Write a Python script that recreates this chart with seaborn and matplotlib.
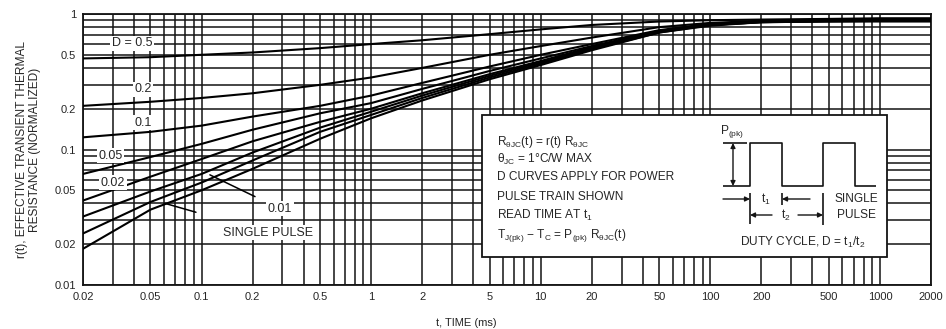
import numpy as np
import pandas as pd
import matplotlib
matplotlib.use("Agg")
import matplotlib.pyplot as plt
import seaborn as sns

# ---- data ----
t_ms = [0.02, 0.05, 0.1, 0.2, 0.5, 1, 2, 5, 10, 20, 50, 100, 200, 500, 1000, 2000]
d_05 = [0.47, 0.48, 0.50, 0.52, 0.56, 0.60, 0.64, 0.71, 0.77, 0.83, 0.88, 0.90, 0.91, 0.92, 0.93, 0.93]
d_02 = [0.21, 0.225, 0.24, 0.26, 0.30, 0.34, 0.40, 0.50, 0.58, 0.67, 0.80, 0.86, 0.89, 0.91, 0.92, 0.92]
d_01 = [0.123, 0.135, 0.15, 0.175, 0.21, 0.25, 0.31, 0.41, 0.50, 0.60, 0.76, 0.85, 0.88, 0.90, 0.91, 0.91]
d_005 = [0.066, 0.088, 0.11, 0.14, 0.185, 0.22, 0.28, 0.38, 0.47, 0.58, 0.75, 0.84, 0.88, 0.90, 0.90, 0.90]
d_002 = [0.042, 0.063, 0.085, 0.115, 0.16, 0.20, 0.26, 0.36, 0.45, 0.57, 0.74, 0.83, 0.88, 0.89, 0.90, 0.90]
d_001 = [0.032, 0.049, 0.066, 0.095, 0.145, 0.19, 0.25, 0.35, 0.44, 0.56, 0.74, 0.83, 0.87, 0.89, 0.89, 0.89]
d_unl = [0.024, 0.041, 0.057, 0.083, 0.135, 0.18, 0.24, 0.34, 0.43, 0.55, 0.73, 0.83, 0.87, 0.88, 0.89, 0.89]
single = [0.0185, 0.036, 0.050, 0.072, 0.12, 0.17, 0.23, 0.33, 0.42, 0.54, 0.73, 0.82, 0.87, 0.88, 0.88, 0.88]

curve_names = ["0.5", "0.2", "0.1", "0.05", "0.02", "0.01", "unlabeled", "single"]
curve_values = [d_05, d_02, d_01, d_005, d_002, d_001, d_unl, single]

x_ticks = [0.02, 0.05, 0.1, 0.2, 0.5, 1, 2, 5, 10, 20, 50, 100, 200, 500, 1000, 2000]
x_tick_labels = ["0.02", "0.05", "0.1", "0.2", "0.5", "1", "2", "5", "10", "20", "50",
                 "100", "200", "500", "1000", "2000"]
y_ticks = [0.01, 0.02, 0.05, 0.1, 0.2, 0.5, 1]
y_tick_labels = ["0.01", "0.02", "0.05", "0.1", "0.2", "0.5", "1"]

# curve labels: text, x, y
curve_labels = [("D = 0.5", 0.039, 0.61), ("0.2", 0.045, 0.278), ("0.1", 0.045, 0.158),
                ("0.05", 0.029, 0.090), ("0.02", 0.030, 0.057)]

frames = [pd.DataFrame({"t": t_ms, "r": v, "D": n}) for n, v in zip(curve_names, curve_values)]
df = pd.concat(frames, ignore_index=True)

sns.set_style("white")
plt.rcParams["font.family"] = ["Liberation Sans", "DejaVu Sans"]
plt.rcParams["mathtext.fontset"] = "custom"
plt.rcParams["mathtext.rm"] = "Liberation Sans"
plt.rcParams["mathtext.it"] = "Liberation Sans"
plt.rcParams["mathtext.bf"] = "Liberation Sans"

TXT = "#262626"
fig = plt.figure(figsize=(9.46, 3.29), dpi=100)
ax = fig.add_axes([83 / 946, 44 / 329, 848 / 946, 271 / 329])

ax.set_xscale("log")
ax.set_yscale("log")
ax.set_xlim(0.02, 2000)
ax.set_ylim(0.01, 1)

# dense grid at 1..9 of each decade
minor_x = [m * 10.0 ** e for e in range(-2, 4) for m in range(1, 10)]
minor_x = [v for v in minor_x if 0.02 <= v <= 2000]
minor_y = [m * 10.0 ** e for e in range(-2, 1) for m in range(1, 10)]
minor_y = [v for v in minor_y if 0.01 <= v <= 1]
for v in minor_x:
    ax.axvline(v, color="#141414", lw=1.1, zorder=1)
for v in minor_y:
    ax.axhline(v, color="#141414", lw=1.1, zorder=1)

sns.lineplot(data=df, x="t", y="r", hue="D", palette=["black"] * len(curve_names),
             legend=False, lw=1.5, ax=ax, zorder=3, sort=False)

ax.set_xticks(x_ticks)
ax.set_xticklabels(x_tick_labels)
ax.set_yticks(y_ticks)
ax.set_yticklabels(y_tick_labels)
ax.minorticks_off()
ax.tick_params(length=0, labelsize=8, colors=TXT, pad=5)
for s in ax.spines.values():
    s.set_color("#141414")
    s.set_linewidth(1.3)

ax.set_xlabel("t, TIME (ms)", fontsize=8, color=TXT)
ax.xaxis.set_label_coords((466 - 83) / 848, -0.12)
ax.set_ylabel("r(t), EFFECTIVE TRANSIENT THERMAL\nRESISTANCE (NORMALIZED)",
              fontsize=8.6, color=TXT, linespacing=1.2)
ax.yaxis.set_label_coords(-0.049, 0.5)

bb = dict(boxstyle="square,pad=0.12", fc="white", ec="none")
for txt, x, y in curve_labels:
    ax.text(x, y, txt, fontsize=9, color=TXT, ha="center", va="center", bbox=bb, zorder=5)

# leader labels
ax.annotate("0.01", xy=(0.112, 0.065), xytext=(0.29, 0.0366), fontsize=9, color=TXT,
            ha="center", va="center", bbox=bb, zorder=5,
            arrowprops=dict(arrowstyle="-", color="black", lw=1.1, shrinkA=9, shrinkB=0))
ax.annotate("SINGLE PULSE", xy=(0.061, 0.040), xytext=(0.245, 0.0243), fontsize=9, color=TXT,
            ha="center", va="center", bbox=bb, zorder=5,
            arrowprops=dict(arrowstyle="-", color="black", lw=1.1, shrinkA=34, shrinkB=0))


# inset box in pixel-derived axes fractions
def fx(px):
    return (px - 83) / 848


def fy(py):
    return (285 - py) / 271


T = ax.transAxes
box = plt.Rectangle((fx(482), fy(257)), fx(887) - fx(482), fy(115) - fy(257), transform=T,
                    fc="white", ec="#141414", lw=1.3, zorder=6)
ax.add_patch(box)

FS = 8.6
left_lines = [
    (142, r"R$_{\theta JC}$(t) = r(t) R$_{\theta JC}$"),
    (159, r"$\theta_{JC}$ = 1°C/W MAX"),
    (177, "D CURVES APPLY FOR POWER"),
    (197, "PULSE TRAIN SHOWN"),
    (215, r"READ TIME AT t$_1$"),
    (235, r"T$_{J(pk)}$ − T$_C$ = P$_{(pk)}$ R$_{\theta JC}$(t)"),
]
for py, s in left_lines:
    ax.text(fx(497), fy(py), s, transform=T, fontsize=FS, color=TXT, ha="left", va="center",
            zorder=7)

# pulse train diagram
kw = dict(transform=T, color="#141414", lw=1.2, zorder=7, solid_capstyle="butt")
ys_top, ys_base = 143, 186
px_path = [750, 750, 782, 782, 823, 823, 855, 855, 876]
py_path = [ys_base, ys_top, ys_top, ys_base, ys_base, ys_top, ys_top, ys_base, ys_base]
ax.plot([fx(p) for p in [723] + px_path], [fy(p) for p in [ys_base] + py_path], **kw)
ax.plot([fx(723), fx(747)], [fy(ys_top), fy(ys_top)], **kw)
ax.annotate("", xy=(fx(733), fy(ys_top)), xytext=(fx(733), fy(ys_base)), xycoords=T, textcoords=T,
            arrowprops=dict(arrowstyle="<|-|>", color="#141414", lw=1.0, mutation_scale=7,
                            shrinkA=0, shrinkB=0), zorder=7)
ax.text(fx(732), fy(131), r"P$_{(pk)}$", transform=T, fontsize=FS, color=TXT, ha="center",
        va="center", zorder=7)
# t1 row
ax.plot([fx(750), fx(750)], [fy(193), fy(224)], **kw)
ax.plot([fx(782), fx(782)], [fy(193), fy(205)], **kw)
ax.plot([fx(823), fx(823)], [fy(193), fy(225)], **kw)
arrow_kw = dict(arrowstyle="-|>", color="#141414", lw=1.0, mutation_scale=7, shrinkA=0, shrinkB=0)
ax.annotate("", xy=(fx(750), fy(199)), xytext=(fx(723), fy(199)), xycoords=T, textcoords=T,
            arrowprops=arrow_kw, zorder=7)
ax.annotate("", xy=(fx(782), fy(199)), xytext=(fx(810), fy(199)), xycoords=T, textcoords=T,
            arrowprops=arrow_kw, zorder=7)
ax.text(fx(766), fy(199), r"t$_1$", transform=T, fontsize=FS, color=TXT, ha="center",
        va="center", zorder=7)
# t2 row
ax.annotate("", xy=(fx(750), fy(215)), xytext=(fx(772), fy(215)), xycoords=T, textcoords=T,
            arrowprops=arrow_kw, zorder=7)
ax.annotate("", xy=(fx(823), fy(215)), xytext=(fx(798), fy(215)), xycoords=T, textcoords=T,
            arrowprops=arrow_kw, zorder=7)
ax.text(fx(786), fy(215), r"t$_2$", transform=T, fontsize=FS, color=TXT, ha="center",
        va="center", zorder=7)
ax.text(fx(856), fy(207), "SINGLE\nPULSE", transform=T, fontsize=FS, color=TXT, ha="center",
        va="center", linespacing=1.4, zorder=7)
ax.text(fx(803), fy(242), r"DUTY CYCLE, D = t$_1$/t$_2$", transform=T, fontsize=FS, color=TXT,
        ha="center", va="center", zorder=7)

fig.savefig("out.png", dpi=100)
